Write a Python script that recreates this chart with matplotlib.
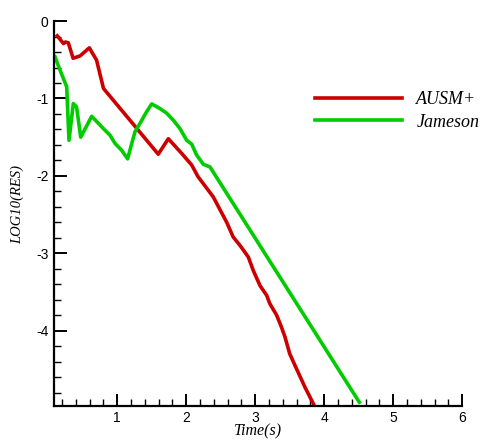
import matplotlib.pyplot as plt
from matplotlib.ticker import MultipleLocator

ausm_t = [0.13, 0.22, 0.25, 0.29, 0.36, 0.46, 0.595, 0.70, 0.80, 1.594,
          1.74, 1.934, 2.079, 2.17, 2.39, 2.586, 2.68, 2.78, 2.90, 2.97,
          3.07, 3.166, 3.21, 3.31, 3.38, 3.43, 3.50, 3.576, 3.72, 3.851]
ausm_res = [-0.19, -0.29, -0.27, -0.28, -0.48, -0.45, -0.345, -0.505, -0.87, -1.72,
            -1.52, -1.71, -1.86, -2.01, -2.27, -2.60, -2.79, -2.90, -3.05, -3.22,
            -3.42, -3.545, -3.65, -3.80, -3.955, -4.08, -4.30, -4.45, -4.73, -4.96]

jam_t = [0.097, 0.16, 0.218, 0.267, 0.30, 0.363, 0.41, 0.47, 0.629, 0.80,
         0.895, 0.967, 1.064, 1.15, 1.21, 1.257, 1.33, 1.426, 1.499, 1.619,
         1.716, 1.812, 1.909, 2.006, 2.079, 2.15, 2.247, 2.344, 4.508]
jam_res = [-0.46, -0.61, -0.74, -0.85, -1.54, -1.065, -1.11, -1.50, -1.23, -1.39,
           -1.475, -1.58, -1.67, -1.78, -1.58, -1.43, -1.32, -1.17, -1.07, -1.13,
           -1.19, -1.28, -1.39, -1.54, -1.59, -1.73, -1.85, -1.885, -4.925]

fig = plt.figure(figsize=(4.84, 4.40), dpi=100)
ax = fig.add_axes([0.1116, 0.078, 0.8434, 0.874])

ax.plot(ausm_t, ausm_res, color="#cc0000", lw=2.6, label="AUSM+")
ax.plot(jam_t, jam_res, color="#00cc00", lw=2.6, label="Jameson")

ax.set_xlim(0.083, 6)
ax.set_ylim(-4.97, 0)
ax.xaxis.set_minor_locator(MultipleLocator(0.2))
ax.yaxis.set_minor_locator(MultipleLocator(0.2))
ax.set_xticks([1, 2, 3, 4, 5, 6])
ax.set_yticks([0, -1, -2, -3, -4])
ax.set_yticklabels(["0", "-1", "-2", "-3", "-4"])

for s in ["top", "right"]:
    ax.spines[s].set_visible(False)
for s in ["left", "bottom"]:
    ax.spines[s].set_linewidth(1.6)

ax.tick_params(which="major", direction="in", length=9, width=1.4,
               labelsize=10, pad=4)
ax.tick_params(which="minor", direction="in", length=5, width=1.0)
for lab in ax.get_xticklabels() + ax.get_yticklabels():
    lab.set_family("Liberation Sans")

ax.set_xlabel("Time(s)", family="Liberation Serif", style="italic",
              fontsize=11.5, labelpad=-1)
ax.set_ylabel("LOG10(RES)", family="Liberation Serif", style="italic",
              fontsize=10.5)
ax.yaxis.set_label_coords(-0.074, 0.524)

ax.legend(loc="upper left", bbox_to_anchor=(0.6, 0.86), frameon=False,
          prop={"family": "Liberation Serif", "style": "italic", "size": 13},
          handlelength=4.8, handletextpad=0.8, labelspacing=0.3)

fig.savefig("out.png", dpi=100)
